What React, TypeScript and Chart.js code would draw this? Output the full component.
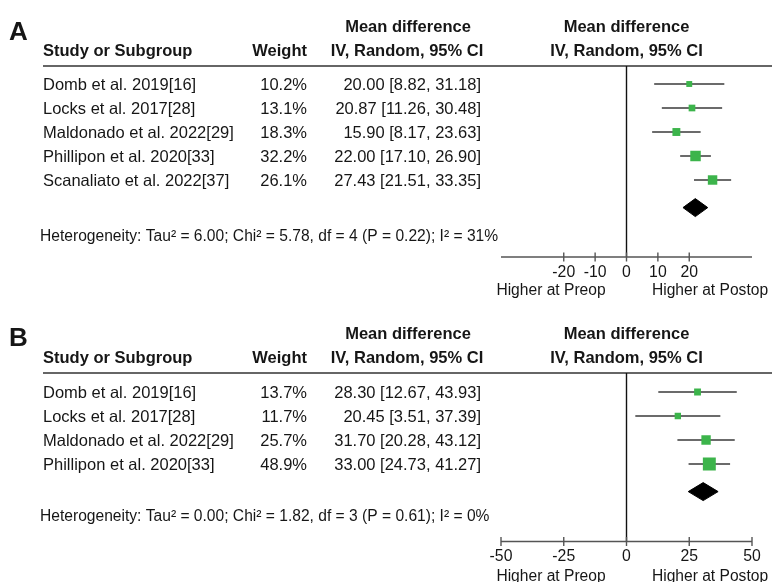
import React, { useEffect, useRef } from "react";
import { Chart, registerables } from "chart.js";

Chart.register(...registerables);

// ---------- Panel A data ----------
const studiesA = [
  "Domb et al. 2019[16]",
  "Locks et al. 2017[28]",
  "Maldonado et al. 2022[29]",
  "Phillipon et al. 2020[33]",
  "Scanaliato et al. 2022[37]",
];
const weightsA = [10.2, 13.1, 18.3, 32.2, 26.1];
const meansA = [20.0, 20.87, 15.9, 22.0, 27.43];
const lowersA = [8.82, 11.26, 8.17, 17.1, 21.51];
const uppersA = [31.18, 30.48, 23.63, 26.9, 33.35];
const pooledA = [21.93, 18.0, 25.9]; // estimate, lower, upper
const heteroA = "Heterogeneity: Tau² = 6.00; Chi² = 5.78, df = 4 (P = 0.22); I² = 31%";
const ticksA = [-20, -10, 0, 10, 20];
const rangeA = [-40, 40];

// ---------- Panel B data ----------
const studiesB = [
  "Domb et al. 2019[16]",
  "Locks et al. 2017[28]",
  "Maldonado et al. 2022[29]",
  "Phillipon et al. 2020[33]",
];
const weightsB = [13.7, 11.7, 25.7, 48.9];
const meansB = [28.3, 20.45, 31.7, 33.0];
const lowersB = [12.67, 3.51, 20.28, 24.73];
const uppersB = [43.93, 37.39, 43.12, 41.27];
const pooledB = [30.55, 24.6, 36.5];
const heteroB = "Heterogeneity: Tau² = 0.00; Chi² = 1.82, df = 3 (P = 0.61); I² = 0%";
const ticksB = [-50, -25, 0, 25, 50];
const rangeB = [-50, 50];

const headerLabels = ["Study or Subgroup", "Weight", "Mean difference", "IV, Random, 95% CI"];
const sideLabels = ["Higher at Preop", "Higher at Postop"];

const FONT = "'Liberation Sans', Arial, Helvetica, sans-serif";
const TEXT = "#161616";
const GREEN = "#3cb44b";
const ROW_PX = 24;

type PanelCfg = {
  letter: string;
  studies: string[];
  weights: number[];
  means: number[];
  lowers: number[];
  uppers: number[];
  pooled: number[];
  hetero: string;
  ticks: number[];
  range: number[];
  top: number;
  height: number;
  headerPx: number;
  axisPx: number;
  firstRowPx: number;
  letterBase: number;
  heteroBase: number;
  sideBase: number;
};

const panelA: PanelCfg = {
  letter: "A",
  studies: studiesA,
  weights: weightsA,
  means: meansA,
  lowers: lowersA,
  uppers: uppersA,
  pooled: pooledA,
  hetero: heteroA,
  ticks: ticksA,
  range: rangeA,
  top: 0,
  height: 300,
  headerPx: 66,
  axisPx: 257,
  firstRowPx: 84,
  letterBase: 40,
  heteroBase: 241,
  sideBase: 295,
};

const panelB: PanelCfg = {
  letter: "B",
  studies: studiesB,
  weights: weightsB,
  means: meansB,
  lowers: lowersB,
  uppers: uppersB,
  pooled: pooledB,
  hetero: heteroB,
  ticks: ticksB,
  range: rangeB,
  top: 300,
  height: 282,
  headerPx: 73,
  axisPx: 241.5,
  firstRowPx: 92,
  letterBase: 46,
  heteroBase: 221,
  sideBase: 280.5,
};

function fmt(v: number) {
  return v.toFixed(2);
}

function ForestPanel({ cfg }: { cfg: PanelCfg }) {
  const ref = useRef<HTMLCanvasElement | null>(null);

  useEffect(() => {
    const canvas = ref.current;
    if (!canvas) return;
    const n = cfg.studies.length;
    const yMin = -(cfg.firstRowPx - cfg.headerPx) / ROW_PX;
    const yMax = yMin + (cfg.axisPx - cfg.headerPx) / ROW_PX;
    const pooledRow = n - 1 + 1.15;
    const dh = 0.375;

    const ciSets = cfg.studies.map((_, i) => ({
      label: "ci" + i,
      data: [
        { x: cfg.lowers[i], y: i },
        { x: cfg.uppers[i], y: i },
      ],
      showLine: true,
      borderColor: "#3a3a3a",
      borderWidth: 1.5,
      pointRadius: 0,
      order: 2,
    }));

    const squares = {
      label: "estimates",
      data: cfg.means.map((m, i) => ({ x: m, y: i })),
      pointStyle: "rect",
      pointRadius: cfg.weights.map((w) => (1.85 * Math.sqrt(w)) / 1.4142),
      backgroundColor: GREEN,
      borderColor: GREEN,
      borderWidth: 0,
      showLine: false,
      order: 0,
    };

    const [est, lo, hi] = cfg.pooled;
    const diamond = {
      label: "pooled",
      data: [
        { x: lo, y: pooledRow },
        { x: est, y: pooledRow - dh },
        { x: hi, y: pooledRow },
        { x: est, y: pooledRow + dh },
        { x: lo, y: pooledRow },
      ],
      showLine: true,
      fill: "shape",
      backgroundColor: "#000",
      borderColor: "#000",
      borderWidth: 1,
      pointRadius: 0,
      tension: 0,
      order: 0,
    };

    const decor = {
      id: "forestDecor",
      beforeDatasetsDraw(chart: any) {
        const { ctx, chartArea } = chart;
        const xs = chart.scales.x;
        ctx.save();
        // header rule
        ctx.strokeStyle = "#333";
        ctx.lineWidth = 1.6;
        ctx.beginPath();
        ctx.moveTo(43, chartArea.top);
        ctx.lineTo(772, chartArea.top);
        ctx.stroke();
        // zero line
        const z = xs.getPixelForValue(0);
        ctx.strokeStyle = "#111";
        ctx.lineWidth = 1.4;
        ctx.beginPath();
        ctx.moveTo(z, chartArea.top);
        ctx.lineTo(z, chartArea.bottom);
        ctx.stroke();
        // axis line
        ctx.strokeStyle = "#555";
        ctx.lineWidth = 1.4;
        ctx.beginPath();
        ctx.moveTo(chartArea.left, chartArea.bottom);
        ctx.lineTo(chartArea.right, chartArea.bottom);
        ctx.stroke();
        // tick marks
        cfg.ticks.forEach((t) => {
          const px = xs.getPixelForValue(t);
          ctx.beginPath();
          ctx.moveTo(px, chartArea.bottom - 4.5);
          ctx.lineTo(px, chartArea.bottom + 4.5);
          ctx.stroke();
        });
        ctx.restore();
      },
      afterDraw(chart: any) {
        const { ctx, chartArea } = chart;
        const ys = chart.scales.y;
        const top = chartArea.top;
        const midX = (chartArea.left + chartArea.right) / 2;
        ctx.save();
        ctx.fillStyle = TEXT;
        ctx.textBaseline = "alphabetic";
        // panel letter
        ctx.font = `bold 26px ${FONT}`;
        ctx.textAlign = "left";
        ctx.fillText(cfg.letter, 9, cfg.letterBase);
        // headers
        ctx.font = `bold 16.5px ${FONT}`;
        ctx.textAlign = "left";
        ctx.fillText(headerLabels[0], 43, top - 10.5);
        ctx.textAlign = "right";
        ctx.fillText(headerLabels[1], 307, top - 10.5);
        ctx.textAlign = "center";
        ctx.fillText(headerLabels[2], 408, top - 34.5);
        ctx.fillText(headerLabels[3], 407, top - 10.5);
        ctx.fillText(headerLabels[2], midX, top - 34.5);
        ctx.fillText(headerLabels[3], midX, top - 10.5);
        // rows
        ctx.font = `16.5px ${FONT}`;
        cfg.studies.forEach((s, i) => {
          const y = ys.getPixelForValue(i) + 6;
          ctx.textAlign = "left";
          ctx.fillText(s, 43, y);
          ctx.textAlign = "right";
          ctx.fillText(cfg.weights[i].toFixed(1) + "%", 307, y);
          ctx.fillText(
            `${fmt(cfg.means[i])} [${fmt(cfg.lowers[i])}, ${fmt(cfg.uppers[i])}]`,
            481,
            y
          );
        });
        // heterogeneity
        ctx.font = `15.6px ${FONT}`;
        ctx.textAlign = "left";
        ctx.fillText(cfg.hetero, 40, cfg.heteroBase);
        // side labels
        ctx.font = `15.6px ${FONT}`;
        ctx.textAlign = "center";
        ctx.fillText(sideLabels[0], 551, cfg.sideBase);
        ctx.fillText(sideLabels[1], 710, cfg.sideBase);
        ctx.restore();
      },
    };

    const chart = new Chart(canvas, {
      type: "scatter",
      data: { datasets: [squares, diamond, ...ciSets] as any },
      options: {
        animation: false,
        responsive: false,
        maintainAspectRatio: false,
        devicePixelRatio: 1,
        layout: { padding: { left: 501, right: 20, top: cfg.headerPx, bottom: 0 } },
        plugins: {
          legend: { display: false },
          tooltip: { enabled: false },
        },
        scales: {
          x: {
            type: "linear",
            min: cfg.range[0],
            max: cfg.range[1],
            afterBuildTicks: (s: any) => {
              s.ticks = cfg.ticks.map((v) => ({ value: v }));
            },
            afterFit: (s: any) => {
              s.height = cfg.height - cfg.axisPx;
            },
            grid: { display: false, drawTicks: false },
            border: { display: false },
            ticks: {
              autoSkip: false,
              maxRotation: 0,
              padding: 6,
              color: TEXT,
              font: { family: FONT, size: 15.8 },
              callback: (v: any) => String(v),
            },
          },
          y: {
            type: "linear",
            display: false,
            reverse: true,
            min: yMin,
            max: yMax,
          },
        },
      } as any,
      plugins: [decor],
    });

    return () => chart.destroy();
  }, [cfg]);

  return (
    <canvas
      ref={ref}
      width={772}
      height={cfg.height}
      style={{ position: "absolute", left: 0, top: cfg.top, width: 772, height: cfg.height }}
    />
  );
}

export default function App() {
  return (
    <div
      style={{
        position: "fixed",
        left: 0,
        top: 0,
        width: 772,
        height: 582,
        background: "#fff",
        overflow: "hidden",
      }}
    >
      <ForestPanel cfg={panelA} />
      <ForestPanel cfg={panelB} />
    </div>
  );
}
